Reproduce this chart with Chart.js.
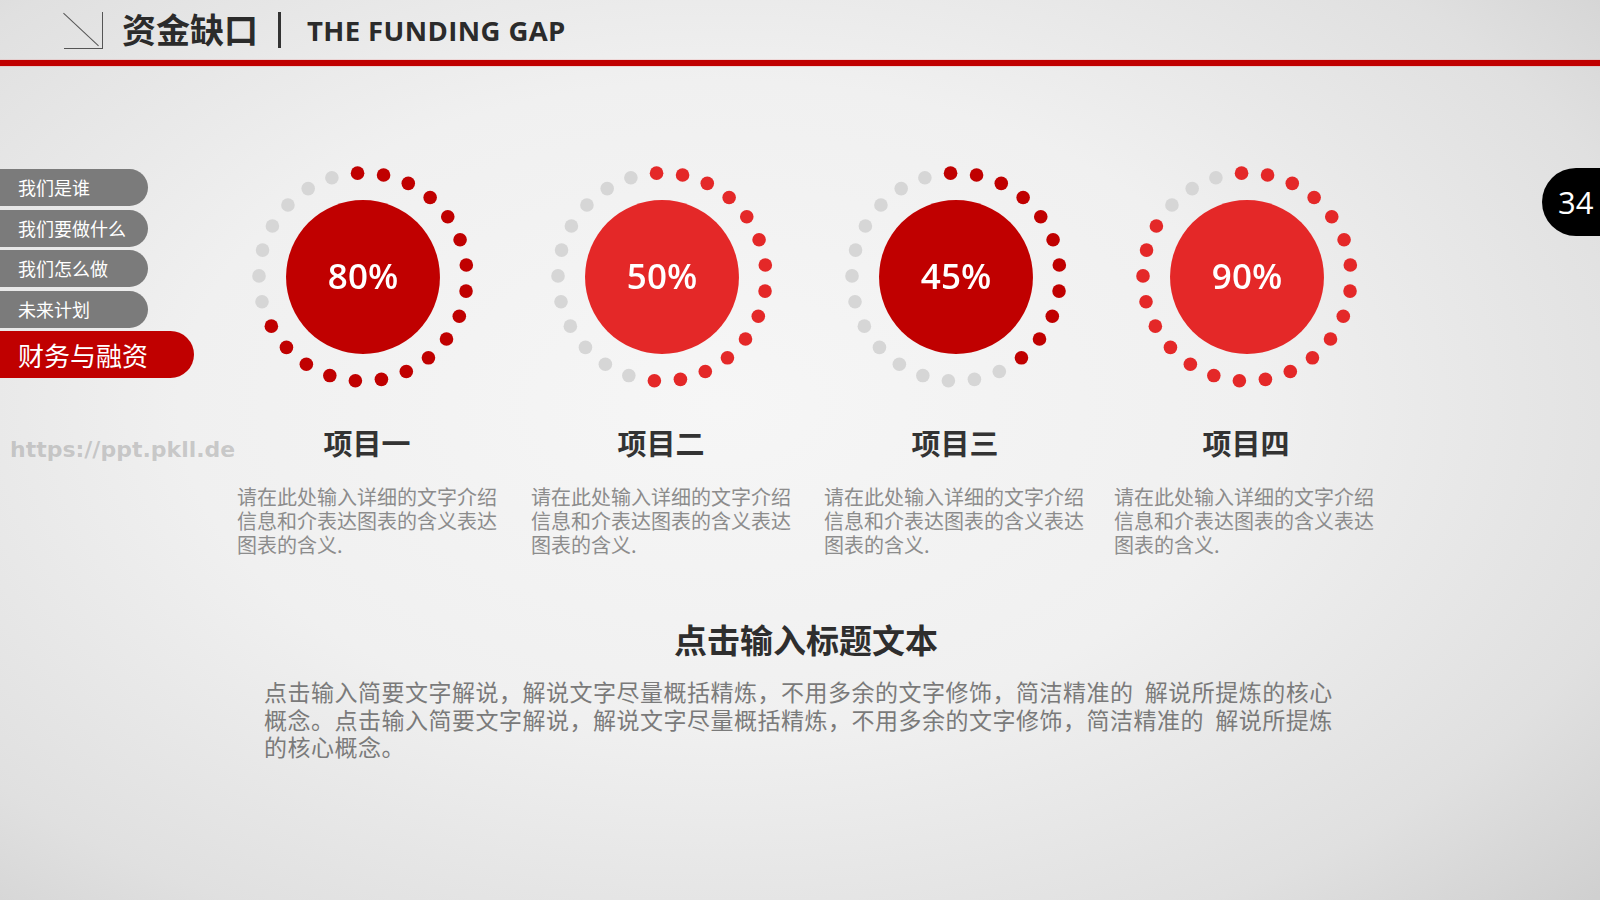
<!DOCTYPE html>
<html lang="zh">
<head>
<meta charset="utf-8">
<title>资金缺口 | THE FUNDING GAP</title>
<script src="https://cdn.jsdelivr.net/npm/chart.js@4/dist/chart.umd.min.js"></script>
<style>
  html, body { margin: 0; padding: 0; }
  body {
    width: 1600px; height: 900px; position: relative; overflow: hidden;
    font-family: "Noto Sans CJK SC", "Noto Sans", sans-serif;
    background: radial-gradient(ellipse 75% 80% at 45% 45%, #f6f6f6 0%, #f0f0f0 45%, #e0e0e0 80%, #d0d0d0 100%);
  }
  .abs { position: absolute; }
  #icon { left: 64px; top: 12px; width: 38px; height: 36px; border-right: 1px solid #555; border-bottom: 1px solid #555; }
  #icon::after { content: ""; position: absolute; top: 17px; width: 48px; height: 1px; background: #555; transform: rotate(43deg); transform-origin: center; left: -7px; }
  #title { left: 122px; top: 5px; font-size: 34px; font-weight: 700; color: #2b2b2b; line-height: 48px; }
  #bar { left: 278px; top: 12px; width: 3px; height: 36px; background: #333; }
  #sub { left: 307px; top: 7px; font-family: "Open Sans", sans-serif; font-weight: 700; font-size: 27.5px; color: #2b2b2b; line-height: 48px; letter-spacing: 0.4px; }
  #redline { left: 0; top: 60px; width: 1600px; height: 6px; background: #c00000; box-shadow: 0 0 1px #e66; }
  .nav { left: 0; width: 148px; height: 37px; background: #7b7b7b; border-radius: 0 19px 19px 0; color: #fff; font-size: 18px; line-height: 37px; padding-left: 18px; box-sizing: border-box; }
  .nav.on { width: 194px; height: 47px; background: #c00000; border-radius: 0 24px 24px 0; font-size: 26px; line-height: 47px; }
  #wm { left: 10px; top: 437px; font-family: "DejaVu Sans", sans-serif; font-weight: 700; font-size: 22px; color: rgba(150,150,150,0.45); }
  #page { left: 1542px; top: 168px; width: 70px; height: 68px; background: #000; border-radius: 34px 0 0 34px; color: #fff; font-family: "Open Sans", sans-serif; font-size: 31px; line-height: 68px; padding-left: 16px; box-sizing: border-box; }
  .ring { width: 260px; height: 260px; }
  .ptitle { width: 200px; text-align: center; font-size: 29px; font-weight: 700; color: #333; line-height: 36px; }
  .pdesc { width: 280px; font-size: 20px; color: #8c8c8c; line-height: 24px; }
  #head { left: 590px; top: 619px; width: 432px; text-align: center; font-size: 33px; font-weight: 700; color: #2e2e2e; line-height: 40px; }
  #para { left: 264px; top: 678px; font-size: 23px; letter-spacing: 0.5px; color: #7a7a7a; line-height: 27.5px; white-space: nowrap; }
</style>
</head>
<body>
<div id="icon" class="abs"></div>
<div id="title" class="abs">资金缺口</div>
<div id="bar" class="abs"></div>
<div id="sub" class="abs">THE FUNDING GAP</div>
<div id="redline" class="abs"></div>
<div id="nav"></div>
<div id="wm" class="abs">https://ppt.pkll.de</div>
<div id="page" class="abs">34</div>
<div id="items"></div>
<div id="head" class="abs">点击输入标题文本</div>
<div id="para" class="abs">点击输入简要文字解说，解说文字尽量概括精炼，不用多余的文字修饰，简洁精准的&nbsp;&nbsp;解说所提炼的核心<br>概念。点击输入简要文字解说，解说文字尽量概括精炼，不用多余的文字修饰，简洁精准的&nbsp;&nbsp;解说所提炼<br>的核心概念。</div>

<script>
// Data
const navItems = ['我们是谁', '我们要做什么', '我们怎么做', '未来计划', '财务与融资'];
const projects = ['项目一', '项目二', '项目三', '项目四'];
const percents = [80, 50, 45, 90];
const redDots = [18, 14, 11, 22];   // filled dots out of dotTotal
const dotTotal = 25;
const descText = '请在此处输入详细的文字介绍<br>信息和介表达图表的含义表达<br>图表的含义.';

// Layout / style
const navTops = [169, 210, 250, 291, 331];
const centerX = [363, 662, 956, 1247];
const centerY = 277;
const titleX = [367, 661, 955, 1246];
const descX = [237, 531, 824, 1114];
const fillColors = ['#c00000', '#e42828', '#c00000', '#e42828'];
const greyDot = '#d6d6d6';

// Left navigation
const nav = document.getElementById('nav');
navItems.forEach((name, i) => {
    const div = document.createElement('div');
    div.className = 'abs nav' + (i === navItems.length - 1 ? ' on' : '');
    div.style.top = navTops[i] + 'px';
    div.textContent = name;
    nav.appendChild(div);
});

// Draws the filled middle disc and the percent label
const centerPlugin = {
    id: 'centerDisc',
    afterDatasetsDraw(chart, args, opts) {
        const r = chart.scales.r;
        const ctx = chart.ctx;
        ctx.save();
        ctx.beginPath();
        ctx.arc(r.xCenter, r.yCenter, r.getDistanceFromCenterForValue(opts.value), 0, Math.PI * 2);
        ctx.fillStyle = opts.color;
        ctx.fill();
        ctx.fillStyle = '#fff';
        ctx.font = '600 35px "Open Sans", sans-serif';
        ctx.textAlign = 'center';
        ctx.textBaseline = 'middle';
        ctx.fillText(opts.text, r.xCenter, r.yCenter + 2);
        ctx.restore();
    }
};

const items = document.getElementById('items');
projects.forEach((name, i) => {
    const canvas = document.createElement('canvas');
    canvas.className = 'abs ring';
    canvas.style.left = (centerX[i] - 130) + 'px';
    canvas.style.top = (centerY - 130) + 'px';
    canvas.width = 260; canvas.height = 260;
    items.appendChild(canvas);

    const labels = [];
    const ring = [];
    const colors = [];
    for (let k = 0; k < dotTotal; k++) {
        labels.push(String(k + 1));
        ring.push(1);
        colors.push(k < redDots[i] ? fillColors[i] : greyDot);
    }

    new Chart(canvas.getContext('2d'), {
        type: 'radar',
        data: {
            labels: labels,
            datasets: [{
                data: ring,
                showLine: false,
                borderWidth: 0,
                backgroundColor: 'transparent',
                pointBackgroundColor: colors,
                pointBorderWidth: 0,
                pointRadius: 6.8,
                pointHoverRadius: 6.8
            }]
        },
        options: {
            responsive: false,
            animation: false,
            events: [],
            plugins: {
                legend: { display: false },
                tooltip: { enabled: false },
                centerDisc: { value: 0.74, color: fillColors[i], text: percents[i] + '%' }
            },
            scales: {
                r: {
                    min: 0,
                    max: 1.25,
                    startAngle: -3,
                    grid: { display: false },
                    angleLines: { display: false },
                    ticks: { display: false },
                    pointLabels: { display: false }
                }
            }
        },
        plugins: [centerPlugin]
    });

    const t = document.createElement('div');
    t.className = 'abs ptitle';
    t.style.left = (titleX[i] - 100) + 'px';
    t.style.top = '424px';
    t.textContent = name;
    items.appendChild(t);

    const d = document.createElement('div');
    d.className = 'abs pdesc';
    d.style.left = descX[i] + 'px';
    d.style.top = '485px';
    d.innerHTML = descText;
    items.appendChild(d);
});
</script>
</body>
</html>
